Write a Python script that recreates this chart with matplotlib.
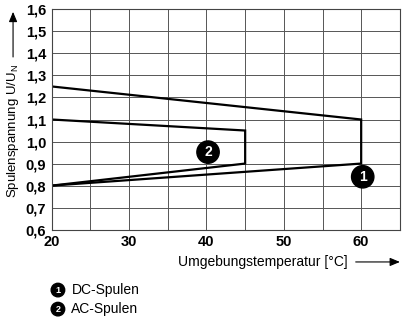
import matplotlib
matplotlib.use("Agg")
import matplotlib.pyplot as plt

plt.rcParams['font.family'] = ['Liberation Sans', 'DejaVu Sans']

# data
dc_temp = [20, 60, 60, 20]
dc_volt = [1.25, 1.1, 0.9, 0.8]
ac_temp = [20, 45, 45, 20]
ac_volt = [1.1, 1.05, 0.9, 0.8]
x_ticks = [20, 30, 40, 50, 60]
x_labels = ['20', '30', '40', '50', '60']
y_ticks = [0.6, 0.7, 0.8, 0.9, 1.0, 1.1, 1.2, 1.3, 1.4, 1.5, 1.6]
y_labels = ['0,6', '0,7', '0,8', '0,9', '1,0', '1,1', '1,2', '1,3', '1,4', '1,5', '1,6']
markers = [('1', 60.2, 0.84), ('2', 40.2, 0.952)]
legend = [('1', 'DC-Spulen'), ('2', 'AC-Spulen')]

fig = plt.figure(figsize=(4.08, 3.23), dpi=100)
ax = fig.add_axes([0.127, 0.289, 0.853, 0.682])

ax.plot(dc_temp, dc_volt, color='black', lw=1.6, solid_joinstyle='miter')
ax.plot(ac_temp, ac_volt, color='black', lw=1.6, solid_joinstyle='miter')

for num, x, y in markers:
    ax.text(x, y, num, ha='center', va='center', color='white', fontsize=10,
            fontweight='bold',
            bbox=dict(boxstyle='circle,pad=0.3', fc='black', ec='black'))

ax.set_xlim(20, 65)
ax.set_ylim(0.6, 1.6)
ax.set_xticks(x_ticks)
ax.set_xticklabels(x_labels, fontweight='bold', fontsize=10.5)
ax.set_xticks(range(25, 66, 10), minor=True)
ax.set_yticks(y_ticks)
ax.set_yticklabels(y_labels, fontweight='bold', fontsize=10.5)
ax.tick_params(which='both', length=0, pad=4)
ax.grid(True, which='both', color='#555555', lw=0.7)
for s in ax.spines.values():
    s.set_color('#444444')
    s.set_linewidth(0.8)

# y label with arrow
fig.text(0.032, 0.594, 'Spulenspannung U/U$_\\mathregular{N}$', rotation=90,
         ha='center', va='center', fontsize=9.5)
fig.add_artist(matplotlib.patches.FancyArrowPatch(
    (0.032, 0.815), (0.032, 0.972), transform=fig.transFigure,
    arrowstyle='-|>,head_length=6,head_width=2.5', color='black', lw=0.8))

# x label with arrow
fig.text(0.853, 0.189, 'Umgebungstemperatur [°C]', ha='right', va='center', fontsize=10)
fig.add_artist(matplotlib.patches.FancyArrowPatch(
    (0.865, 0.189), (0.987, 0.189), transform=fig.transFigure,
    arrowstyle='-|>,head_length=6,head_width=2.5', color='black', lw=0.8))

# legend
for i, (num, label) in enumerate(legend):
    y = 0.102 - i * 0.059
    fig.text(0.142, y, num, ha='center', va='center', color='white', fontsize=6.5,
             fontweight='bold',
             bbox=dict(boxstyle='circle,pad=0.25', fc='black', ec='black'))
    fig.text(0.175, y, label, ha='left', va='center', fontsize=10)

fig.savefig('out.png', dpi=100)
